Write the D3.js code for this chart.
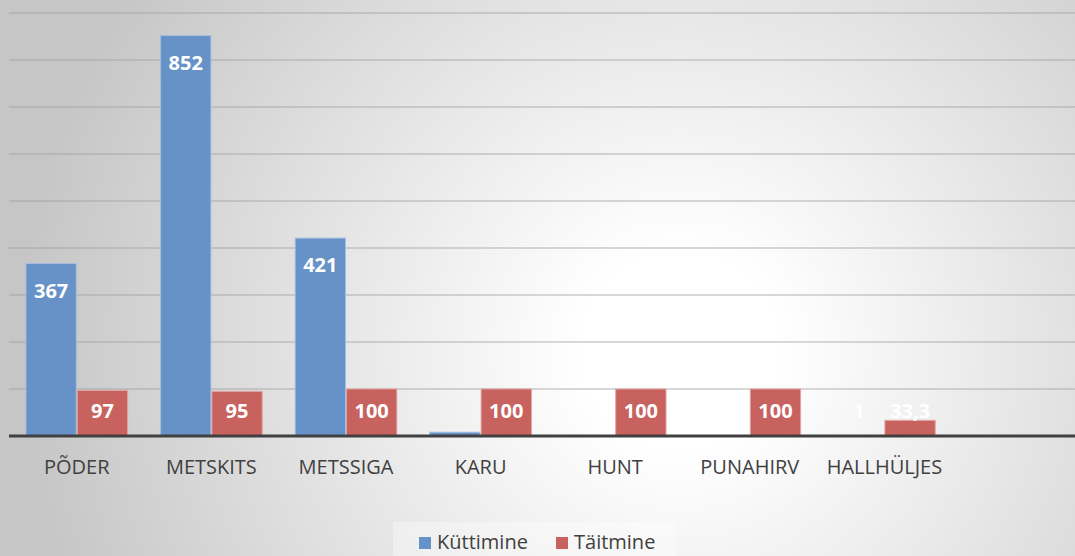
<!DOCTYPE html>
<html>
<head>
<meta charset="utf-8">
<script src="https://cdn.jsdelivr.net/npm/d3@7"></script>
<style>
  html, body { margin: 0; padding: 0; overflow: hidden; }
  svg { display: block; }
</style>
</head>
<body>
<div id="bar_chart"></div>
<script>
// data
var categories = ["PÕDER", "METSKITS", "METSSIGA", "KARU", "HUNT", "PUNAHIRV", "HALLHÜLJES"];
var seriesNames = ["Küttimine", "Täitmine"];
var kuttimine = [367, 852, 421, 8, 0, 0, 1];
var taitmine = [97, 95, 100, 100, 100, 100, 33.3];
var labelsKuttimine = ["367", "852", "421", "", "", "", "1"];
var labelsTaitmine = ["97", "95", "100", "100", "100", "100", "33,3"];
var yTicks = [100, 200, 300, 400, 500, 600, 700, 800, 900];

var colors = {"Küttimine": "#6792c7", "Täitmine": "#c8625f"};
var strokes = {"Küttimine": "#a4bddf", "Täitmine": "#e0a4a2"};

var W = 1075, H = 556;

// build rows from the arrays
var data = categories.map(function(c, i) {
    return {
        cat: c,
        values: [
            {key: "Küttimine", value: kuttimine[i], label: labelsKuttimine[i]},
            {key: "Täitmine", value: taitmine[i], label: labelsTaitmine[i]}
        ]
    };
});

var svg = d3.select("#bar_chart")
    .append("svg")
    .attr("width", W)
    .attr("height", H);

// background gradient
var defs = svg.append("defs");
var grad = defs.append("radialGradient")
    .attr("id", "bg")
    .attr("gradientUnits", "userSpaceOnUse")
    .attr("cx", 680).attr("cy", 350)
    .attr("r", 660);
grad.append("stop").attr("offset", "0%").attr("stop-color", "#ffffff");
grad.append("stop").attr("offset", "15%").attr("stop-color", "#ffffff");
grad.append("stop").attr("offset", "100%").attr("stop-color", "#c6c6c6");

svg.append("rect")
    .attr("width", W).attr("height", H)
    .attr("fill", "url(#bg)");

// scales
var x0 = d3.scaleBand()
    .domain(categories)
    .range([9.5, 9.5 + 134.6 * categories.length])
    .paddingInner(0.245)
    .paddingOuter(0.1225);

var x1 = d3.scaleBand()
    .domain(seriesNames)
    .range([0, x0.bandwidth()])
    .paddingInner(0.02);

var y = d3.scaleLinear()
    .domain([0, 900])
    .range([436, 13]);

// gridlines
svg.append("g")
    .selectAll("line")
    .data(yTicks)
    .enter()
    .append("line")
    .attr("x1", 9)
    .attr("x2", W)
    .attr("y1", function(d) { return y(d); })
    .attr("y2", function(d) { return y(d); })
    .attr("stroke", "#a0a0a0")
    .attr("stroke-opacity", 0.55)
    .attr("stroke-width", 1.6);

// bars
var groups = svg.append("g")
    .selectAll("g")
    .data(data)
    .enter()
    .append("g")
    .attr("transform", function(d) { return "translate(" + x0(d.cat) + ",0)"; });

groups.selectAll("rect")
    .data(function(d) { return d.values; })
    .enter()
    .append("rect")
    .attr("x", function(d) { return x1(d.key); })
    .attr("width", x1.bandwidth())
    .attr("y", function(d) { return y(d.value); })
    .attr("height", function(d) { return y(0) - y(d.value); })
    .attr("fill", function(d) { return colors[d.key]; })
    .attr("stroke", function(d) { return d.value > 0 ? strokes[d.key] : "none"; })
    .attr("stroke-width", 1);

// data labels, inside end but kept above the baseline
groups.selectAll("text")
    .data(function(d) { return d.values; })
    .enter()
    .append("text")
    .attr("x", function(d) { return x1(d.key) + x1.bandwidth() / 2; })
    .attr("y", function(d) { return Math.min(y(d.value) + 27, y(0) - 25); })
    .attr("dy", "0.36em")
    .attr("text-anchor", "middle")
    .style("font-family", "'Open Sans', sans-serif")
    .style("font-weight", "bold")
    .style("font-size", "20px")
    .style("fill", "#ffffff")
    .text(function(d) { return d.label; });

// baseline
svg.append("line")
    .attr("x1", 9)
    .attr("x2", W)
    .attr("y1", y(0))
    .attr("y2", y(0))
    .attr("stroke", "#404040")
    .attr("stroke-width", 3);

// category axis labels
svg.append("g")
    .selectAll("text")
    .data(categories)
    .enter()
    .append("text")
    .attr("x", function(d) { return x0(d) + x0.bandwidth() / 2; })
    .attr("y", 474)
    .attr("text-anchor", "middle")
    .style("font-family", "'Open Sans', sans-serif")
    .style("font-size", "20px")
    .style("fill", "#404040")
    .text(function(d) { return d; });

// legend
svg.append("rect")
    .attr("x", 393).attr("y", 522)
    .attr("width", 283).attr("height", 34)
    .attr("fill", "#ffffff")
    .attr("fill-opacity", 0.35);

var legendX = [419, 556];
var legend = svg.append("g")
    .selectAll("g")
    .data(seriesNames)
    .enter()
    .append("g")
    .attr("transform", function(d, i) { return "translate(" + legendX[i] + ",537)"; });

legend.append("rect")
    .attr("width", 12)
    .attr("height", 12)
    .attr("fill", function(d) { return colors[d]; });

legend.append("text")
    .attr("x", 18)
    .attr("y", 12)
    .style("font-family", "'Open Sans', sans-serif")
    .style("font-size", "20px")
    .style("fill", "#404040")
    .text(function(d) { return d; });
</script>
</body>
</html>
